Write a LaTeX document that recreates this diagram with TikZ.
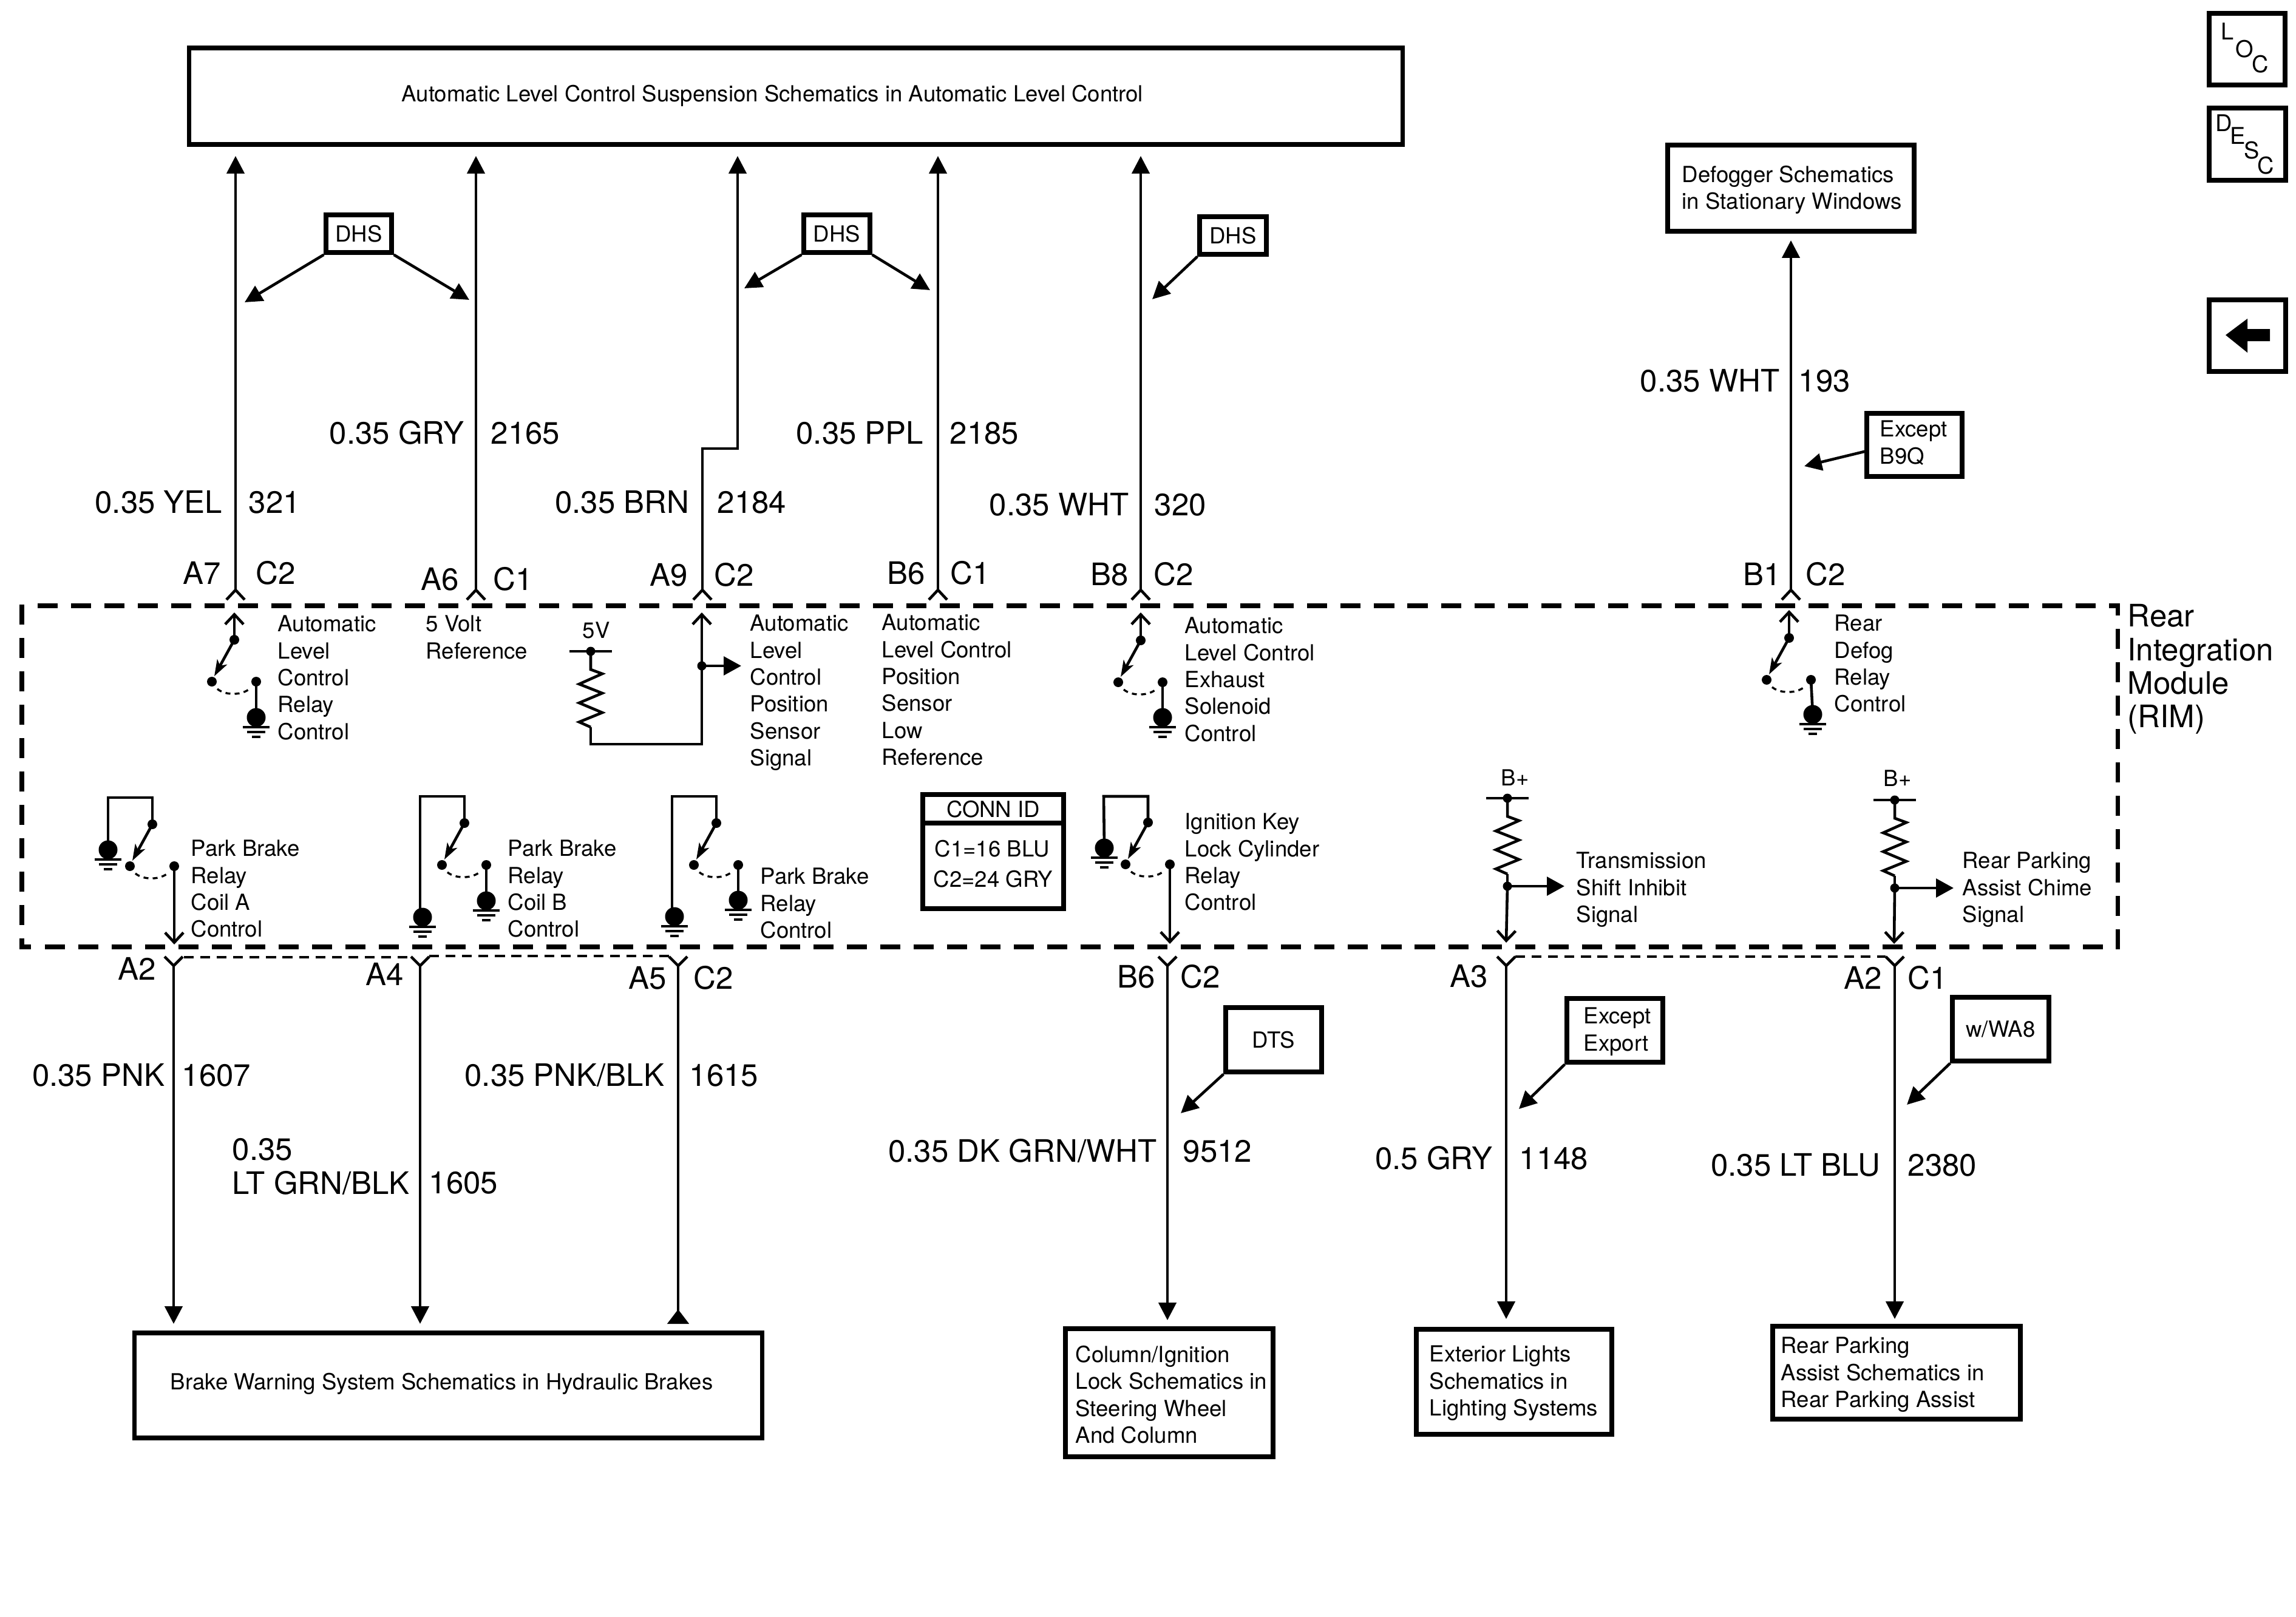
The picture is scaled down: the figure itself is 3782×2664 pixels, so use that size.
\documentclass[tikz,border=0pt]{standalone}
\usepackage{fontspec}
\setmainfont{TeX Gyre Heros}
\usetikzlibrary{arrows.meta}
\newcommand{\labfont}{\fontsize{10.4}{12.6}\selectfont}
\newcommand{\wirefont}{\fontsize{14.5}{15.7}\selectfont}
\tikzset{
    wire/.style={line width=1.3pt},
    wireout/.style={wire,-{Straight Barb[length=4.6pt,width=8.6pt]}},
    wirein/.style={wire,-{Triangle[length=8.2pt,width=8.2pt]}},
    wireback/.style={wire,-{Triangle[length=6.8pt,width=10pt,reversed]}},
    tap/.style={line width=1.4pt,-{Triangle[length=8.2pt,width=8.6pt]}},
    tagarrow/.style={line width=1.3pt,-{Triangle[length=8.2pt,width=8pt]}},
    rimbox/.style={line width=2pt,dash pattern=on 9.4pt off 6.25pt},
    linkdash/.style={line width=.9pt,dash pattern=on 4.6pt off 3.1pt},
    sysbox/.style={draw,line width=2.1pt,inner sep=0pt,font=\labfont},
    tagbox/.style={draw,line width=2.1pt,inner sep=0pt,font=\labfont},
    onelab/.style={font=\labfont,inner sep=0pt,align=left},
    lab/.style={onelab,anchor=north west,yshift=1pt},
    biglab/.style={font=\wirefont,anchor=north west,inner sep=0pt,align=left},
    wirelab/.style={font=\wirefont,anchor=base west,inner sep=0pt},
    wirelabr/.style={font=\wirefont,anchor=base east,inner sep=0pt},
    letter/.style={onelab,font=\fontsize{10.8}{12}\selectfont},
    ground/.pic={
        \fill (0,0) circle[radius=15.5];
        \draw[line width=.95pt] (-22,16) -- (22,16) (-15,24) -- (15,24) (-7,32) -- (7,32);
        \coordinate (-ball) at (0,0);
    },
    relaycontact/.pic={
        \fill (0,0) circle[radius=8] (-37,69) circle[radius=8] (36,69) circle[radius=8];
        \draw[wire,-{Stealth[length=7.6pt,width=5.2pt,inset=2pt]}] (0,0) -- (-33,60);
        \draw[line width=.95pt,dash pattern=on 2.3pt off 2pt] (-28,81) .. controls (-15,92) and (13,92) .. (26,80);
        \coordinate (-top) at (0,0);
        \coordinate (-left) at (-37,69);
        \coordinate (-right) at (36,69);
    },
    pullup/.pic={
        \draw[line width=1.4pt] (-35,0) -- (35,0);
        \fill (0,0) circle[radius=7.5];
        \draw[wire] (0,0) -- (0,30) -- (19,37) -- (-19,54) -- (19,69) -- (-19,85) -- (19,101) -- (-19,116.5) -- (0,125);
        \coordinate (-end) at (0,125);
    },
    socketup/.pic={\draw[wire] (-15,16) -- (0,0) -- (15,16);},
    socketdown/.pic={\draw[wire] (-15,-15) -- (0,0) -- (15,-15);},
}
\begin{document}
\begin{tikzpicture}[x=0.01cm,y=-0.01cm]
        \useasboundingbox (0,0) rectangle (3782,2664);
        \node[sysbox,minimum width=19.98cm,minimum height=1.59cm] (alcbox) at (1311,158.5) {};
        \node[onelab,anchor=west] (alctxt) at (661,158) {Automatic Level Control Suspension Schematics in Automatic Level Control};
        \node[sysbox,minimum width=4.06cm,minimum height=1.42cm] (defogbox) at (2950,310) {};
        \node[lab] (defogtxt) at (2770,276) {Defogger Schematics\\in Stationary Windows};
        \node[sysbox,minimum width=10.33cm,minimum height=1.73cm] (brakebox) at (738.5,2282.5) {};
        \node[onelab,anchor=west] (braketxt) at (280,2280) {Brake Warning System Schematics in Hydraulic Brakes};
        \node[sysbox,minimum width=3.42cm,minimum height=2.11cm] (columnbox) at (1926,2294.5) {};
        \node[lab] (columntxt) at (1771,2220) {Column/Ignition\\Lock Schematics in\\Steering Wheel\\And Column};
        \node[sysbox,minimum width=3.22cm,minimum height=1.73cm] (lightbox) at (2494,2276.5) {};
        \node[lab] (lighttxt) at (2354,2220) {Exterior Lights\\Schematics in\\Lighting Systems};
        \node[sysbox,minimum width=4.08cm,minimum height=1.53cm] (chimebox) at (3124,2261.5) {};
        \node[lab] (chimetxt) at (2933,2206) {Rear Parking\\Assist Schematics in\\Rear Parking Assist};

        \draw[rimbox] (62,998) -- (3492,998) (36,996) -- (36,1564) (74,1560) -- (3492,1560) (3488,1564) -- (3488,996);
        \draw[line width=2pt] (33,1560) -- (51,1560);
        \node[biglab] (rimtxt) at (3504,995) {Rear\\Integration\\Module\\(RIM)};

        \coordinate (socA7) at (388,972);
        \coordinate (socA6) at (784,972);
        \coordinate (socA9) at (1157,972);
        \coordinate (socB6) at (1545,972);
        \coordinate (socB8) at (1879,972);
        \coordinate (socB1) at (2950,972);
        \coordinate (tipA7) at (388,257);
        \coordinate (tipA6) at (784,257);
        \coordinate (jogA9) at (1157,739);
        \coordinate (tipA9) at (1215,257);
        \coordinate (tipB6) at (1545,257);
        \coordinate (tipB8) at (1879,257);
        \coordinate (tipB1) at (2950,396);
        \pic at (socA7) {socketup};
        \pic at (socA6) {socketup};
        \pic at (socA9) {socketup};
        \pic at (socB6) {socketup};
        \pic at (socB8) {socketup};
        \pic at (socB1) {socketup};
        \draw[wirein] (socA7) -- (tipA7);
        \draw[wirein] (socA6) -- (tipA6);
        \draw[wirein] (socA9) |- (jogA9 -| tipA9) -- (tipA9);
        \draw[wirein] (socB6) -- (tipB6);
        \draw[wirein] (socB8) -- (tipB8);
        \draw[wirein] (socB1) -- (tipB1);

        \coordinate (socA2) at (286,1591);
        \coordinate (socA4) at (692,1591);
        \coordinate (socA5) at (1117,1591);
        \coordinate (socB6b) at (1923,1591);
        \coordinate (socA3) at (2481,1591);
        \coordinate (socA2b) at (3121,1591);
        \coordinate (tipA2) at (286,2181);
        \coordinate (tipA4) at (692,2181);
        \coordinate (tipA5) at (1117,2181);
        \coordinate (tipB6b) at (1923,2175);
        \coordinate (tipA3) at (2481,2173);
        \coordinate (tipA2b) at (3121,2173);
        \pic at (socA2) {socketdown};
        \pic at (socA4) {socketdown};
        \pic at (socA5) {socketdown};
        \pic at (socB6b) {socketdown};
        \pic at (socA3) {socketdown};
        \pic at (socA2b) {socketdown};
        \draw[wirein] (socA2) -- (tipA2);
        \draw[wirein] (socA4) -- (tipA4);
        \draw[wireback] (socA5) -- (tipA5);
        \draw[wirein] (socB6b) -- (tipB6b);
        \draw[wirein] (socA3) -- (tipA3);
        \draw[wirein] (socA2b) -- (tipA2b);
        \draw[linkdash] (303,1577) -- (677,1577);
        \draw[linkdash] (707,1575) -- (1102,1575);
        \draw[linkdash] (2496,1576) -- (3106,1576);

        \node[wirelab] (pinA7) at (301,962) {A7};
        \node[wirelab] (conA7) at (421,962) {C2};
        \node[wirelab] (pinA6) at (693,972) {A6};
        \node[wirelab] (conA6) at (812,972) {C1};
        \node[wirelab] (pinA9) at (1070,965) {A9};
        \node[wirelab] (conA9) at (1176,965) {C2};
        \node[wirelab] (pinB6) at (1461,962) {B6};
        \node[wirelab] (conB6) at (1565,962) {C1};
        \node[wirelab] (pinB8) at (1796,964) {B8};
        \node[wirelab] (conB8) at (1900,964) {C2};
        \node[wirelab] (pinB1) at (2871,964) {B1};
        \node[wirelab] (conB1) at (2974,964) {C2};
        \node[wirelab] (pinA2) at (194,1614) {A2};
        \node[wirelab] (pinA4) at (602,1623) {A4};
        \node[wirelab] (pinA5) at (1035,1629) {A5};
        \node[wirelab] (conA5) at (1142,1629) {C2};
        \node[wirelab] (pinB6b) at (1840,1627) {B6};
        \node[wirelab] (conB6b) at (1944,1627) {C2};
        \node[wirelab] (pinA3) at (2388,1626) {A3};
        \node[wirelab] (pinA2b) at (3037,1629) {A2};
        \node[wirelab] (conA2b) at (3142,1629) {C1};

        \node[wirelabr] (colA7) at (367,845) {0.35 YEL};
        \node[wirelab] (numA7) at (409,845) {321};
        \node[wirelabr] (colA6) at (765,731) {0.35 GRY};
        \node[wirelab] (numA6) at (808,731) {2165};
        \node[wirelabr] (colA9) at (1136,845) {0.35 BRN};
        \node[wirelab] (numA9) at (1181,845) {2184};
        \node[wirelabr] (colB6) at (1522,731) {0.35 PPL};
        \node[wirelab] (numB6) at (1564,731) {2185};
        \node[wirelabr] (colB8) at (1860,849) {0.35 WHT};
        \node[wirelab] (numB8) at (1901,849) {320};
        \node[wirelabr] (colB1) at (2932,645) {0.35 WHT};
        \node[wirelab] (numB1) at (2962,645) {193};
        \node[wirelabr] (colA2) at (272,1789) {0.35 PNK};
        \node[wirelab] (numA2) at (299,1789) {1607};
        \node[biglab] (colA4) at (382,1875) {0.35\\LT GRN/BLK};
        \node[wirelab] (numA4) at (706,1966) {1605};
        \node[wirelabr] (colA5) at (1095,1789) {0.35 PNK/BLK};
        \node[wirelab] (numA5) at (1135,1789) {1615};
        \node[wirelabr] (colB6b) at (1906,1914) {0.35 DK GRN/WHT};
        \node[wirelab] (numB6b) at (1948,1914) {9512};
        \node[wirelabr] (colA3) at (2459,1926) {0.5 GRY};
        \node[wirelab] (numA3) at (2502,1926) {1148};
        \node[wirelabr] (colA2b) at (3098,1937) {0.35 LT BLU};
        \node[wirelab] (numA2b) at (3142,1937) {2380};

        \node[tagbox,minimum width=1.08cm,minimum height=.62cm] (dhsA) at (591,385) {DHS};
        \node[tagbox,minimum width=1.09cm,minimum height=.62cm] (dhsB) at (1378.5,385) {DHS};
        \node[tagbox,minimum width=1.10cm,minimum height=.62cm] (dhsC) at (2031,388) {DHS};
        \node[tagbox,minimum width=1.57cm,minimum height=1.04cm] (exbox) at (3153.5,733) {};
        \node[lab] (extxt) at (3096,696) {Except\\B9Q};
        \node[tagbox,minimum width=1.58cm,minimum height=1.06cm] (dtsbox) at (2098,1713) {DTS};
        \node[tagbox,minimum width=1.58cm,minimum height=1.05cm] (expbox) at (2660,1697.5) {};
        \node[lab] (exptxt) at (2608,1663) {Except\\Export};
        \node[tagbox,minimum width=1.59cm,minimum height=1.05cm] (wabox) at (3295.5,1695.5) {w/WA8};
        \coordinate (markA) at (403,498);
        \coordinate (markB) at (773,494);
        \coordinate (markC) at (1226,475);
        \coordinate (markD) at (1532,478);
        \coordinate (markE) at (1898,493);
        \coordinate (markF) at (2972,768);
        \coordinate (markG) at (1945,1834);
        \coordinate (markH) at (2502,1827);
        \coordinate (markI) at (3141,1820);
        \coordinate (exout) at (3075,743);
        \draw[tagarrow] (dhsA.south west) -- (markA);
        \draw[tagarrow] (dhsA.south east) -- (markB);
        \draw[tagarrow] (dhsB.south west) -- (markC);
        \draw[tagarrow] (dhsB.south east) -- (markD);
        \draw[tagarrow] (dhsC.south west) -- (markE);
        \draw[tagarrow] (exout) -- (markF);
        \draw[tagarrow] (dtsbox.south west) -- (markG);
        \draw[tagarrow] (expbox.south west) -- (markH);
        \draw[tagarrow] (wabox.south west) -- (markI);

        \pic (swA) at (386,1054) {relaycontact};
        \pic (gndA) at (422,1182) {ground};
        \coordinate (outA) at (386,1009);
        \draw[wireout] (swA-top) -- (outA);
        \draw[wire] (swA-right) -- (gndA-ball);
        \node[lab] (txtA) at (457,1017) {Automatic\\Level\\Control\\Relay\\Control};

        \node[lab] (txtB) at (701,1017) {5 Volt\\Reference};

        \node[lab] (fivev) at (959,1028) {5V};
        \pic (resC) at (973,1073) {pullup};
        \coordinate (botC) at (1156,1226);
        \coordinate (tapC) at (1156,1097);
        \coordinate (outC) at (1156,1009);
        \coordinate (sigC) at (1221,1097);
        \draw[wire] (resC-end) |- (botC) -- (tapC);
        \draw[wireout] (tapC) -- (outC);
        \fill (tapC) circle[radius=7.5];
        \draw[tap] (tapC) -- (sigC);
        \node[lab] (txtC) at (1235,1016) {Automatic\\Level\\Control\\Position\\Sensor\\Signal};

        \node[lab] (txtD) at (1452,1015) {Automatic\\Level Control\\Position\\Sensor\\Low\\Reference};

        \pic (swE) at (1879,1055) {relaycontact};
        \pic (gndE) at (1915,1182) {ground};
        \coordinate (outE) at (1879,1009);
        \draw[wireout] (swE-top) -- (outE);
        \draw[wire] (swE-right) -- (gndE-ball);
        \node[lab] (txtE) at (1951,1020) {Automatic\\Level Control\\Exhaust\\Solenoid\\Control};

        \pic (swF) at (2947,1051) {relaycontact};
        \pic (gndF) at (2986,1177) {ground};
        \coordinate (outF) at (2947,1005);
        \draw[wireout] (swF-top) -- (outF);
        \draw[wire] (swF-right) -- (gndF-ball);
        \node[lab] (txtF) at (3021,1016) {Rear\\Defog\\Relay\\Control};

        \pic (swG) at (251,1358) {relaycontact};
        \pic (gndG) at (178,1400) {ground};
        \coordinate (roofG) at (178,1314);
        \coordinate (outG) at (287,1556);
        \draw[wire] (swG-top) |- (roofG) -- (gndG-ball);
        \draw[wireout] (swG-right) -- (outG);
        \node[lab] (txtG) at (314,1387) {Park Brake\\Relay\\Coil A\\Control};

        \pic (swH) at (765,1356) {relaycontact};
        \pic (gndH) at (696,1511) {ground};
        \pic (gndHb) at (801,1484) {ground};
        \coordinate (roofH) at (692,1312);
        \draw[wire] (swH-top) |- (roofH) -- (roofH |- gndH-ball);
        \draw[wire] (swH-right) -- (gndHb-ball);
        \node[lab] (txtH) at (836,1387) {Park Brake\\Relay\\Coil B\\Control};

        \pic (swI) at (1180,1356) {relaycontact};
        \pic (gndI) at (1111,1510) {ground};
        \pic (gndIb) at (1216,1483) {ground};
        \coordinate (roofI) at (1107,1312);
        \draw[wire] (swI-top) |- (roofI) -- (roofI |- gndI-ball);
        \draw[wire] (swI-right) -- (gndIb-ball);
        \node[lab] (txtI) at (1252,1433) {Park Brake\\Relay\\Control};

        \node[tagbox,line width=2.3pt,minimum width=2.32cm,minimum height=1.88cm] (connbox) at (1636,1403) {};
        \coordinate (connrule) at (1636,1356);
        \draw[line width=2pt] (connbox.west |- connrule) -- (connbox.east |- connrule);
        \node[onelab,anchor=center] (connhead) at (1636,1333) {CONN ID};
        \node[onelab,anchor=west] (connone) at (1539,1398) {C1=16 BLU};
        \node[onelab,anchor=west] (conntwo) at (1537,1448) {C2=24 GRY};

        \pic (swJ) at (1891,1355) {relaycontact};
        \pic (gndJ) at (1819,1397) {ground};
        \coordinate (roofJ) at (1818,1312);
        \coordinate (outJ) at (1927,1555);
        \draw[wire] (swJ-top) |- (roofJ) -- (gndJ-ball);
        \draw[wireout] (swJ-right) -- (outJ);
        \node[lab] (txtJ) at (1951,1343) {Ignition Key\\Lock Cylinder\\Relay\\Control};

        \node[lab] (bplusK) at (2472,1271) {B+};
        \pic (resK) at (2483,1315) {pullup};
        \coordinate (tapK) at (2483,1460);
        \coordinate (outK) at (2481,1553);
        \coordinate (sigK) at (2577,1460);
        \draw[wire] (resK-end) -- (tapK);
        \draw[wireout] (tapK) -- (outK);
        \fill (tapK) circle[radius=7.5];
        \draw[tap] (tapK) -- (sigK);
        \node[lab] (txtK) at (2596,1407) {Transmission\\Shift Inhibit\\Signal};

        \node[lab] (bplusL) at (3102,1272) {B+};
        \pic (resL) at (3121,1318) {pullup};
        \coordinate (tapL) at (3121,1463);
        \coordinate (outL) at (3120,1555);
        \coordinate (sigL) at (3218,1463);
        \draw[wire] (resL-end) -- (tapL);
        \draw[wireout] (tapL) -- (outL);
        \fill (tapL) circle[radius=7.5];
        \draw[tap] (tapL) -- (sigL);
        \node[lab] (txtL) at (3232,1407) {Rear Parking\\Assist Chime\\Signal};

        \node[tagbox,minimum width=1.25cm,minimum height=1.18cm] (locbox) at (3701.5,81) {};
        \node[letter] (locL) at (3669,52) {L};
        \node[letter] (locO) at (3697,81) {O};
        \node[letter] (locC) at (3723,106) {C};
        \node[tagbox,minimum width=1.26cm,minimum height=1.19cm] (descbox) at (3702,237.5) {};
        \node[letter] (descD) at (3663,203) {D};
        \node[letter] (descE) at (3686,224) {E};
        \node[letter] (descS) at (3709,248) {S};
        \node[letter] (descC) at (3732,273) {C};
        \node[tagbox,minimum width=1.26cm,minimum height=1.18cm] (backbox) at (3702,553) {};
        \fill (3666,552) -- (3702,525) -- (3702,542) -- (3739,542) -- (3739,562) -- (3702,562) -- (3702,581) -- cycle;
    \end{tikzpicture}
\end{document}
